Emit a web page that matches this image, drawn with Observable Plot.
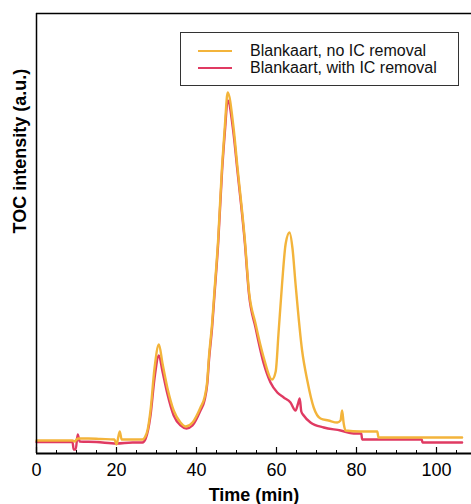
<!DOCTYPE html>
<html>
<head>
<meta charset="utf-8">
<script src="https://cdn.jsdelivr.net/npm/d3@7"></script>
<script src="https://cdn.jsdelivr.net/npm/@observablehq/plot@0.6"></script>
<style>
  html, body { margin: 0; padding: 0; background: #fff; }
  #wrap { position: relative; width: 471px; height: 504px; font-family: "Liberation Sans", Arial, sans-serif; }
  #legend { position: absolute; left: 180px; top: 32px; width: 277px; height: 52px; border: 1px solid #333; background: #fff; }
  .row { position: absolute; left: 0; height: 18px; display: flex; align-items: center; font-size: 16px; color: #111; }
  .sw { display: inline-block; width: 34px; height: 2px; margin-left: 17px; margin-right: 18px; }
</style>
</head>
<body>
<div id="wrap"></div>
<script>
// Series labels
const seriesNames = ["Blankaart, no IC removal", "Blankaart, with IC removal"];
const seriesColors = ["#F3B43B", "#E03A62"];

// Series 1: no IC removal (time in min, TOC intensity in a.u.)
const noIcTime = [0, 5, 9, 9.6, 10, 10.5, 13, 16, 19.5, 20, 20.8, 21.3, 24, 26.5, 27.2, 27.8, 28.5, 29.5, 30.6, 31.5, 32.7, 34.3, 36, 37.3, 39, 41, 42, 42.7, 43.1, 43.9, 44.5, 45.4, 46.4, 47.1, 47.8, 49.2, 50.2, 52.1, 53.1, 54.75, 56.8, 58.9, 59.8, 60.5, 61.4, 62.3, 63.25, 64, 64.75, 66.4, 67.7, 69.3, 71, 73, 75.2, 76, 76.4, 76.8, 77.25, 81, 85.2, 85.5, 106.4];
const noIcValue = [13, 13, 13, 12, 14, 15, 15, 14.5, 14, 9, 22, 14, 14, 14, 17, 24, 43, 85, 109, 90, 66, 43, 31, 27, 31, 46, 56, 73, 96, 130, 163, 213, 288, 328, 361, 328, 288, 213, 163, 130, 96, 74, 82, 120, 170, 210, 221, 205, 170, 103, 73, 46, 35, 33, 31, 33, 43, 30, 23, 22, 22, 16, 16];

// Series 2: with IC removal
const withIcTime = [0, 5, 9, 9.3, 9.8, 10.3, 10.8, 15, 20, 24, 26.5, 27.3, 28.5, 29.5, 30.6, 31.5, 32.7, 34.3, 36, 37.5, 39, 41, 42, 42.7, 43.1, 43.9, 44.5, 45.4, 46.4, 47.1, 47.8, 49.2, 50.2, 52.1, 53.1, 54.75, 56.8, 58.5, 60.2, 61.8, 63.5, 64.75, 65.4, 65.8, 66.2, 66.8, 68.5, 71.8, 76, 79.3, 81.2, 81.4, 96.3, 96.5, 106.4];
const withIcValue = [11.5, 11.5, 11.5, 4, 4, 19, 12, 11.5, 10, 11, 11, 15, 38, 75, 98, 82, 60, 38, 28, 25, 28, 43, 53, 70, 92, 126, 159, 209, 283, 322, 353, 322, 284, 210, 160, 126, 90, 71, 61, 56, 51, 43, 50, 55, 42, 38, 31, 26, 23, 20, 20, 14, 14, 11, 11];

// Axis ticks
const majorTicks = [0, 20, 40, 60, 80, 100];
const minorTicks = [5, 10, 15, 25, 30, 35, 45, 50, 55, 65, 70, 75, 85, 90, 95, 105];

const xLabel = "Time (min)";
const yLabel = "TOC intensity (a.u.)";

const s1 = noIcTime.map((t, i) => ({t, v: noIcValue[i]}));
const s2 = withIcTime.map((t, i) => ({t, v: withIcValue[i]}));

const chart = Plot.plot({
  width: 471,
  height: 504,
  marginLeft: 36,
  marginTop: 13,
  marginBottom: 51,
  marginRight: 0,
  style: {fontFamily: "Liberation Sans, Arial, sans-serif", background: "#fff"},
  x: {domain: [0, 108.75], axis: null},
  y: {domain: [0, 440], axis: null},
  marks: [
    Plot.line(s2, {x: "t", y: "v", stroke: seriesColors[1], strokeWidth: 2.4, curve: "monotone-x"}),
    Plot.line(s1, {x: "t", y: "v", stroke: seriesColors[0], strokeWidth: 2.4, curve: "monotone-x"}),
    Plot.ruleX(majorTicks, {y1: 0, y2: 6, stroke: "#000", strokeWidth: 1.2}),
    Plot.ruleX(minorTicks, {y1: 0, y2: 3, stroke: "#000", strokeWidth: 1}),
    Plot.ruleY([0], {stroke: "#000", strokeWidth: 1.8}),
    Plot.ruleY([440], {stroke: "#000", strokeWidth: 1.5}),
    Plot.ruleX([0], {stroke: "#000", strokeWidth: 1.5}),
    Plot.axisX({ticks: majorTicks, tickSize: 0, tickPadding: 10, fontSize: 18, label: null, tickFormat: d => String(d)}),
    Plot.text([xLabel], {frameAnchor: "bottom", dy: 42, fontSize: 18, fontWeight: "bold", fill: "#000", lineAnchor: "middle"}),
    Plot.text([yLabel], {frameAnchor: "left", dx: -16, rotate: -90, fontSize: 18, fontWeight: "bold", fill: "#000", lineAnchor: "middle"})
  ]
});

const wrap = document.getElementById("wrap");
wrap.appendChild(chart);

const legend = document.createElement("div");
legend.id = "legend";
seriesNames.forEach((name, i) => {
  const row = document.createElement("div");
  row.className = "row";
  row.style.top = (9 + i * 17) + "px";
  const sw = document.createElement("span");
  sw.className = "sw";
  sw.style.background = seriesColors[i];
  const label = document.createElement("span");
  label.textContent = name;
  row.appendChild(sw);
  row.appendChild(label);
  legend.appendChild(row);
});
wrap.appendChild(legend);
</script>
</body>
</html>
